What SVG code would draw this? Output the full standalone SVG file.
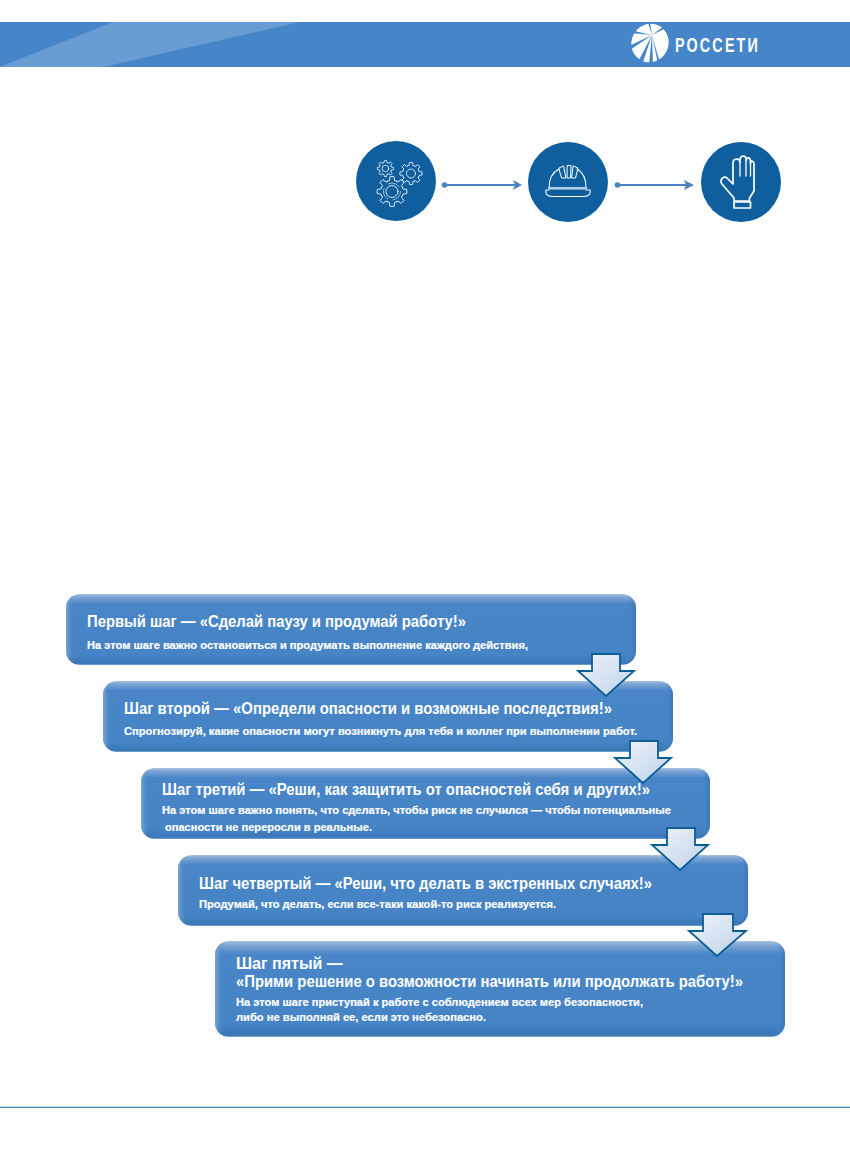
<svg xmlns="http://www.w3.org/2000/svg" xmlns:xlink="http://www.w3.org/1999/xlink" width="850" height="1169" viewBox="0 0 850 1169">
<style>
text{font-family:"Liberation Sans",Arial,sans-serif;font-weight:700;fill:#fff}
.h{font-size:16px}
.s{font-size:11.3px;stroke:#fff;stroke-width:.2}
.c{fill:#0f5f9f}
.ic{fill:none;stroke:#fff;stroke-linejoin:round;stroke-linecap:round}
.ln{stroke:#4a82c2;stroke-width:2;fill:none}
.ah{fill:#4a82c2}
.bx{fill:url(#bg);stroke:none}
.ar{fill:url(#ag);stroke:#0d5d96;stroke-width:1.8;stroke-linejoin:miter}
</style>
<defs>
<linearGradient id="bg" x1="0" y1="0" x2="0" y2="1">
<stop offset="0" stop-color="#a9c3e0"/><stop offset=".04" stop-color="#7fa6d4"/><stop offset=".14" stop-color="#4985c7"/><stop offset=".86" stop-color="#4684c6"/><stop offset=".96" stop-color="#3c78b8"/><stop offset=".985" stop-color="#3f7cbd"/><stop offset="1" stop-color="#8db2dc"/>
</linearGradient>
<linearGradient id="sd" x1="0" y1="0" x2="1" y2="0">
<stop offset="0" stop-color="#8fb2da" stop-opacity=".75"/><stop offset=".014" stop-color="#4985c7" stop-opacity="0"/><stop offset=".986" stop-color="#4985c7" stop-opacity="0"/><stop offset="1" stop-color="#3570ae" stop-opacity=".6"/>
</linearGradient>
<linearGradient id="ag" x1="0" y1="0" x2="1" y2="1">
<stop offset="0" stop-color="#f0f4fa"/><stop offset="1" stop-color="#bdd2e8"/>
</linearGradient>
<path id="t" d="M6.93-2.87L7.31-1.69L9.9-1.39V1.39L7.31 1.69L6.93 2.87"/>
<g id="gear">
<use xlink:href="#t"/><use xlink:href="#t" transform="rotate(45)"/><use xlink:href="#t" transform="rotate(90)"/><use xlink:href="#t" transform="rotate(135)"/><use xlink:href="#t" transform="rotate(180)"/><use xlink:href="#t" transform="rotate(225)"/><use xlink:href="#t" transform="rotate(270)"/><use xlink:href="#t" transform="rotate(315)"/>
<circle r="4"/>
</g>
</defs>
<rect width="850" height="1169" fill="#fff"/>
<g id="header">
<rect x="0" y="22" width="850" height="45" fill="#4686c8"/>
<polygon points="0,67 113,22 300,22 103,67" fill="#6a9cd4"/>
<g id="logo">
<ellipse cx="650" cy="43" rx="18.500" ry="19.500" transform="rotate(25 650 43)" fill="#fff"/>
<g fill="#4686c8">
<polygon points="652,35 648,23 650,23"/>
<polygon points="652,35 664,26 666,28"/>
<polygon points="652,35 630,30 630,33"/>
<polygon points="652,35 629,46 630,50"/>
<polygon points="652,35 639,60 643,62"/>
<polygon points="652,35 649,64 653,64"/>
<polygon points="652,35 658,64 660,63"/>
</g>
<text x="675" y="52" font-size="20" letter-spacing="3" textLength="85" lengthAdjust="spacingAndGlyphs">РОССЕТИ</text>
</g>
</g>
<g id="connectors">
<circle class="ah" cx="444.500" cy="185" r="2.800"/><path class="ln" d="M445 185H518"/><path class="ah" d="M513 180L522 185L513 190L515 185Z"/>
<circle class="ah" cx="617.500" cy="185" r="2.800"/><path class="ln" d="M618 185H690"/><path class="ah" d="M684 180L694 185L684 190L686 185Z"/>
</g>
<g id="icon-gears">
<circle class="c" cx="396" cy="181" r="40"/>
<g class="ic" stroke="#dfe9f3">
<use xlink:href="#gear" transform="translate(392 191.500) scale(1.5)" stroke-width=".55"/>
<circle cx="392" cy="191.500" r="8.500" stroke-width=".6" stroke-dasharray="12 6"/>
<use xlink:href="#gear" transform="translate(385.500 168.500) scale(.82)" stroke-width=".9"/>
<use xlink:href="#gear" transform="translate(411 173.500) scale(1.12)" stroke-width=".7"/>
</g>
</g>
<g id="icon-helmet">
<circle class="c" cx="568" cy="182" r="40"/>
<g class="ic" stroke-width="1.1">
<path d="M549 188C549 178 553 172 559 169M586 188C586 178 583 172 577 169"/>
<path d="M559 168L563.500 166L566 178H562ZM567.500 165.500H571L570.500 178H567.500ZM573.500 166L578 168L575.500 178H572Z" stroke-width="1"/>
<path d="M549 190H546C545 193 546 196 552 196.500H584C590 196 591 193 590 190H586"/>
</g>
<rect x="548" y="187" width="39" height="2.600" fill="#b4cde2"/>
</g>
<g id="icon-glove">
<circle class="c" cx="741" cy="182" r="40"/>
<g class="ic" stroke-width="1.7">
<path d="M734 198L722 184C719 180 724 175 727 178L733 184V163C733 158 740 158 740 162V159C741 155 746 155 746 159V160C747 157 750 157 750.500 161V163C751 160 754 161 754 164V191L749.500 198V201H734Z"/>
<path d="M740 162V176M746 160V176M750.500 162V176" stroke-width="1.300"/>
<rect x="734" y="202" width="16.500" height="6"/>
</g>
</g>
<g id="step1">
<rect class="bx" x="66" y="594" width="570" height="71" rx="14"/><rect x="66" y="594" width="570" height="71" rx="14" fill="url(#sd)"/>
<text class="h" x="87" y="627" textLength="379" lengthAdjust="spacingAndGlyphs">Первый шаг — «Сделай паузу и продумай работу!»</text>
<text class="s" x="87" y="649" textLength="441" lengthAdjust="spacingAndGlyphs">На этом шаге важно остановиться и продумать выполнение каждого действия,</text>
</g>
<g id="step2">
<rect class="bx" x="103" y="681" width="570" height="71" rx="14"/><rect x="103" y="681" width="570" height="71" rx="14" fill="url(#sd)"/>
<text class="h" x="124" y="714" textLength="488" lengthAdjust="spacingAndGlyphs">Шаг второй — «Определи опасности и возможные последствия!»</text>
<text class="s" x="124" y="735" textLength="513" lengthAdjust="spacingAndGlyphs">Спрогнозируй, какие опасности могут возникнуть для тебя и коллег при выполнении работ.</text>
</g>
<g id="step3">
<rect class="bx" x="141" y="768" width="569" height="71" rx="14"/><rect x="141" y="768" width="569" height="71" rx="14" fill="url(#sd)"/>
<text class="h" x="162" y="794.500" textLength="488" lengthAdjust="spacingAndGlyphs">Шаг третий — «Реши, как защитить от опасностей себя и других!»</text>
<text class="s" x="162" y="814" textLength="509" lengthAdjust="spacingAndGlyphs">На этом шаге важно понять, что сделать, чтобы риск не случился — чтобы потенциальные</text>
<text class="s" x="165" y="830.500" textLength="207" lengthAdjust="spacingAndGlyphs">опасности не переросли в реальные.</text>
</g>
<g id="step4">
<rect class="bx" x="178" y="855" width="570" height="71" rx="14"/><rect x="178" y="855" width="570" height="71" rx="14" fill="url(#sd)"/>
<text class="h" x="199" y="889" textLength="453" lengthAdjust="spacingAndGlyphs">Шаг четвертый — «Реши, что делать в экстренных случаях!»</text>
<text class="s" x="199" y="908" textLength="357" lengthAdjust="spacingAndGlyphs">Продумай, что делать, если все-таки какой-то риск реализуется.</text>
</g>
<g id="step5">
<rect class="bx" x="215" y="941" width="570" height="96" rx="14"/><rect x="215" y="941" width="570" height="96" rx="14" fill="url(#sd)"/>
<text class="h" x="236" y="969">Шаг пятый —</text>
<text class="h" x="236" y="987" textLength="507" lengthAdjust="spacingAndGlyphs">«Прими решение о возможности начинать или продолжать работу!»</text>
<text class="s" x="236" y="1006" textLength="407" lengthAdjust="spacingAndGlyphs">На этом шаге приступай к работе с соблюдением всех мер безопасности,</text>
<text class="s" x="236" y="1021" textLength="250" lengthAdjust="spacingAndGlyphs">либо не выполняй ее, если это небезопасно.</text>
</g>
<g id="arrows">
<path class="ar" d="M592 654H620V671H634L606 696L578 671H592Z"/>
<path class="ar" d="M630 741H658V758H671L643 783L615 758H630Z"/>
<path class="ar" d="M667 828H695V845H708L680 870L652 845H667Z"/>
<path class="ar" d="M703 914H733V931H746L717 956L689 931H703Z"/>
</g>
<g id="footer"><rect x="0" y="1106.700" width="850" height="1.300" fill="#3f8aad"/></g>
</svg>
